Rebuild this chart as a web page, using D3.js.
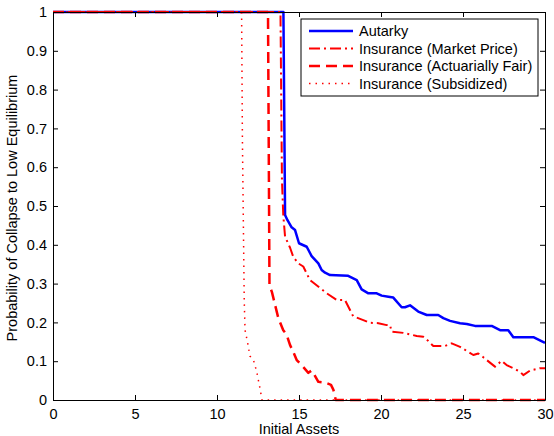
<html>
<head>
<style>
body
{
  margin:0;
  background:#fff;
}
text
{
  font-family:"Liberation Sans", Arial, sans-serif;
}
</style>
<script src="https://cdnjs.cloudflare.com/ajax/libs/d3/7.8.5/d3.min.js"></script>
</head>
<body>
<script>
// values
var autarkyX = [0, 14.05, 14.15, 14.29, 14.55, 14.76, 15.0, 15.47, 15.77, 16.18, 16.38, 16.59, 16.89, 18.0, 18.52, 18.82, 19.23, 19.74, 20.04, 20.45, 20.75, 21.26, 21.46, 21.77, 22.27, 22.79, 23.49, 23.8, 24.21, 24.82, 25.23, 25.73, 26.75, 27.26, 27.76, 28.07, 29.29, 30];
var autarkyY = [1, 1, 0.477, 0.464, 0.445, 0.438, 0.404, 0.395, 0.371, 0.352, 0.335, 0.328, 0.322, 0.32, 0.309, 0.285, 0.275, 0.275, 0.269, 0.266, 0.264, 0.239, 0.239, 0.244, 0.228, 0.219, 0.219, 0.211, 0.204, 0.198, 0.196, 0.191, 0.191, 0.18, 0.18, 0.162, 0.162, 0.147];

var marketX = [0, 13.87, 13.96, 14.04, 14.15, 14.45, 14.65, 14.96, 15.26, 15.67, 16.69, 17.3, 17.8, 18.3, 18.92, 19.33, 19.84, 20.35, 20.55, 20.65, 21.36, 22.18, 22.58, 22.79, 23.19, 23.9, 24.31, 24.82, 25.63, 25.93, 26.24, 26.95, 27.36, 27.66, 28.48, 28.68, 29.09, 29.7, 30];
var marketY = [1, 1, 0.567, 0.477, 0.421, 0.393, 0.369, 0.352, 0.344, 0.309, 0.275, 0.258, 0.258, 0.216, 0.206, 0.199, 0.198, 0.193, 0.193, 0.176, 0.173, 0.165, 0.163, 0.156, 0.139, 0.139, 0.146, 0.137, 0.116, 0.12, 0.11, 0.086, 0.101, 0.09, 0.073, 0.064, 0.076, 0.082, 0.082];

var fairX = [0, 13.11, 13.2, 13.35, 13.74, 14.04, 14.25, 14.45, 14.65, 14.86, 15.16, 15.57, 15.77, 15.87, 16.18, 16.59, 16.95, 17.1, 17.24, 30];
var fairY = [1, 1, 0.296, 0.278, 0.211, 0.18, 0.168, 0.142, 0.124, 0.103, 0.09, 0.07, 0.076, 0.07, 0.047, 0.045, 0.039, 0.026, 0, 0];

var subsX = [0, 11.5, 11.55, 11.66, 11.71, 11.87, 12.01, 12.21, 12.42, 12.58, 12.73, 12.75, 30];
var subsY = [1, 1, 0.67, 0.258, 0.18, 0.147, 0.113, 0.105, 0.073, 0.039, 0.004, 0, 0];

var xTicks = [0, 5, 10, 15, 20, 25, 30];
var yTicks = [0, 0.1, 0.2, 0.3, 0.4, 0.5, 0.6, 0.7, 0.8, 0.9, 1];
var names = ["Autarky", "Insurance (Market Price)", "Insurance (Actuarially Fair)", "Insurance (Subsidized)"];

var W = 554, H = 436;
var pLeft = 53, pRight = 545, pTop = 12, pBottom = 400;
var fs = 14.5;

var series = [
  {name: names[0], xs: autarkyX, ys: autarkyY, color: "#0000ff", width: 2.5, dash: null},
  {name: names[1], xs: marketX, ys: marketY, color: "#ff0000", width: 2, dash: "11,4,2,4"},
  {name: names[2], xs: fairX, ys: fairY, color: "#ff0000", width: 2.5, dash: "11,6"},
  {name: names[3], xs: subsX, ys: subsY, color: "#ff0000", width: 1.5, dash: "1.5,5"}
];

var svg = d3.select("body")
  .append("svg")
  .attr("width", W)
  .attr("height", H);

var x = d3.scaleLinear().domain([0, 30]).range([pLeft, pRight]);
var y = d3.scaleLinear().domain([0, 1]).range([pBottom, pTop]);

var line = d3.line()
  .x(function(d){ return x(d[0]); })
  .y(function(d){ return y(d[1]); });

series.forEach(function(s) {
  var pts = s.xs.map(function(v, i){ return [v, s.ys[i]]; });
  svg.append("path")
    .attr("d", line(pts))
    .attr("fill", "none")
    .attr("stroke", s.color)
    .attr("stroke-width", s.width)
    .attr("stroke-dasharray", s.dash)
    .attr("stroke-linejoin", "round");
});

// box and inward ticks, matlab style
svg.append("g")
  .attr("transform", "translate(0," + pBottom + ")")
  .call(d3.axisBottom(x).tickValues(xTicks).tickSizeInner(-5).tickSizeOuter(0).tickPadding(9).tickFormat(d3.format("d")));
svg.append("g")
  .attr("transform", "translate(0," + pTop + ")")
  .call(d3.axisTop(x).tickValues(xTicks).tickSizeInner(-5).tickSizeOuter(0).tickFormat(""));
svg.append("g")
  .attr("transform", "translate(" + pLeft + ",0)")
  .call(d3.axisLeft(y).tickValues(yTicks).tickSizeInner(-5).tickSizeOuter(0).tickPadding(6).tickFormat(function(d){ return d == 0 || d == 1 ? d3.format("d")(d) : d3.format(".1f")(d); }));
svg.append("g")
  .attr("transform", "translate(" + pRight + ",0)")
  .call(d3.axisRight(y).tickValues(yTicks).tickSizeInner(-5).tickSizeOuter(0).tickFormat(""));

svg.selectAll(".domain").attr("stroke", "#000");
svg.selectAll(".tick line").attr("stroke", "#000");
svg.selectAll(".tick text").attr("font-size", fs).attr("fill", "#000").attr("font-family", "Liberation Sans, Arial, sans-serif");

// labels
svg.append("text")
  .attr("x", (pLeft + pRight) / 2)
  .attr("y", 434)
  .attr("text-anchor", "middle")
  .attr("font-size", fs)
  .text("Initial Assets");

svg.append("text")
  .attr("transform", "translate(17,208) rotate(-90)")
  .attr("text-anchor", "middle")
  .attr("font-size", fs)
  .text("Probability of Collapse to Low Equilibrium");

// legend
var lg = svg.append("g").attr("transform", "translate(301,19)");
lg.append("rect")
  .attr("width", 237)
  .attr("height", 77)
  .attr("fill", "#fff")
  .attr("stroke", "#000")
  .attr("stroke-width", 1);

series.forEach(function(s, i) {
  var yy = 12 + i * 17.5;
  lg.append("line")
    .attr("x1", 8).attr("x2", 52)
    .attr("y1", yy).attr("y2", yy)
    .attr("stroke", s.color)
    .attr("stroke-width", s.width)
    .attr("stroke-dasharray", s.dash);
  lg.append("text")
    .attr("x", 58)
    .attr("y", yy + 5)
    .attr("font-size", fs)
    .text(s.name);
});
</script>
</body>
</html>
